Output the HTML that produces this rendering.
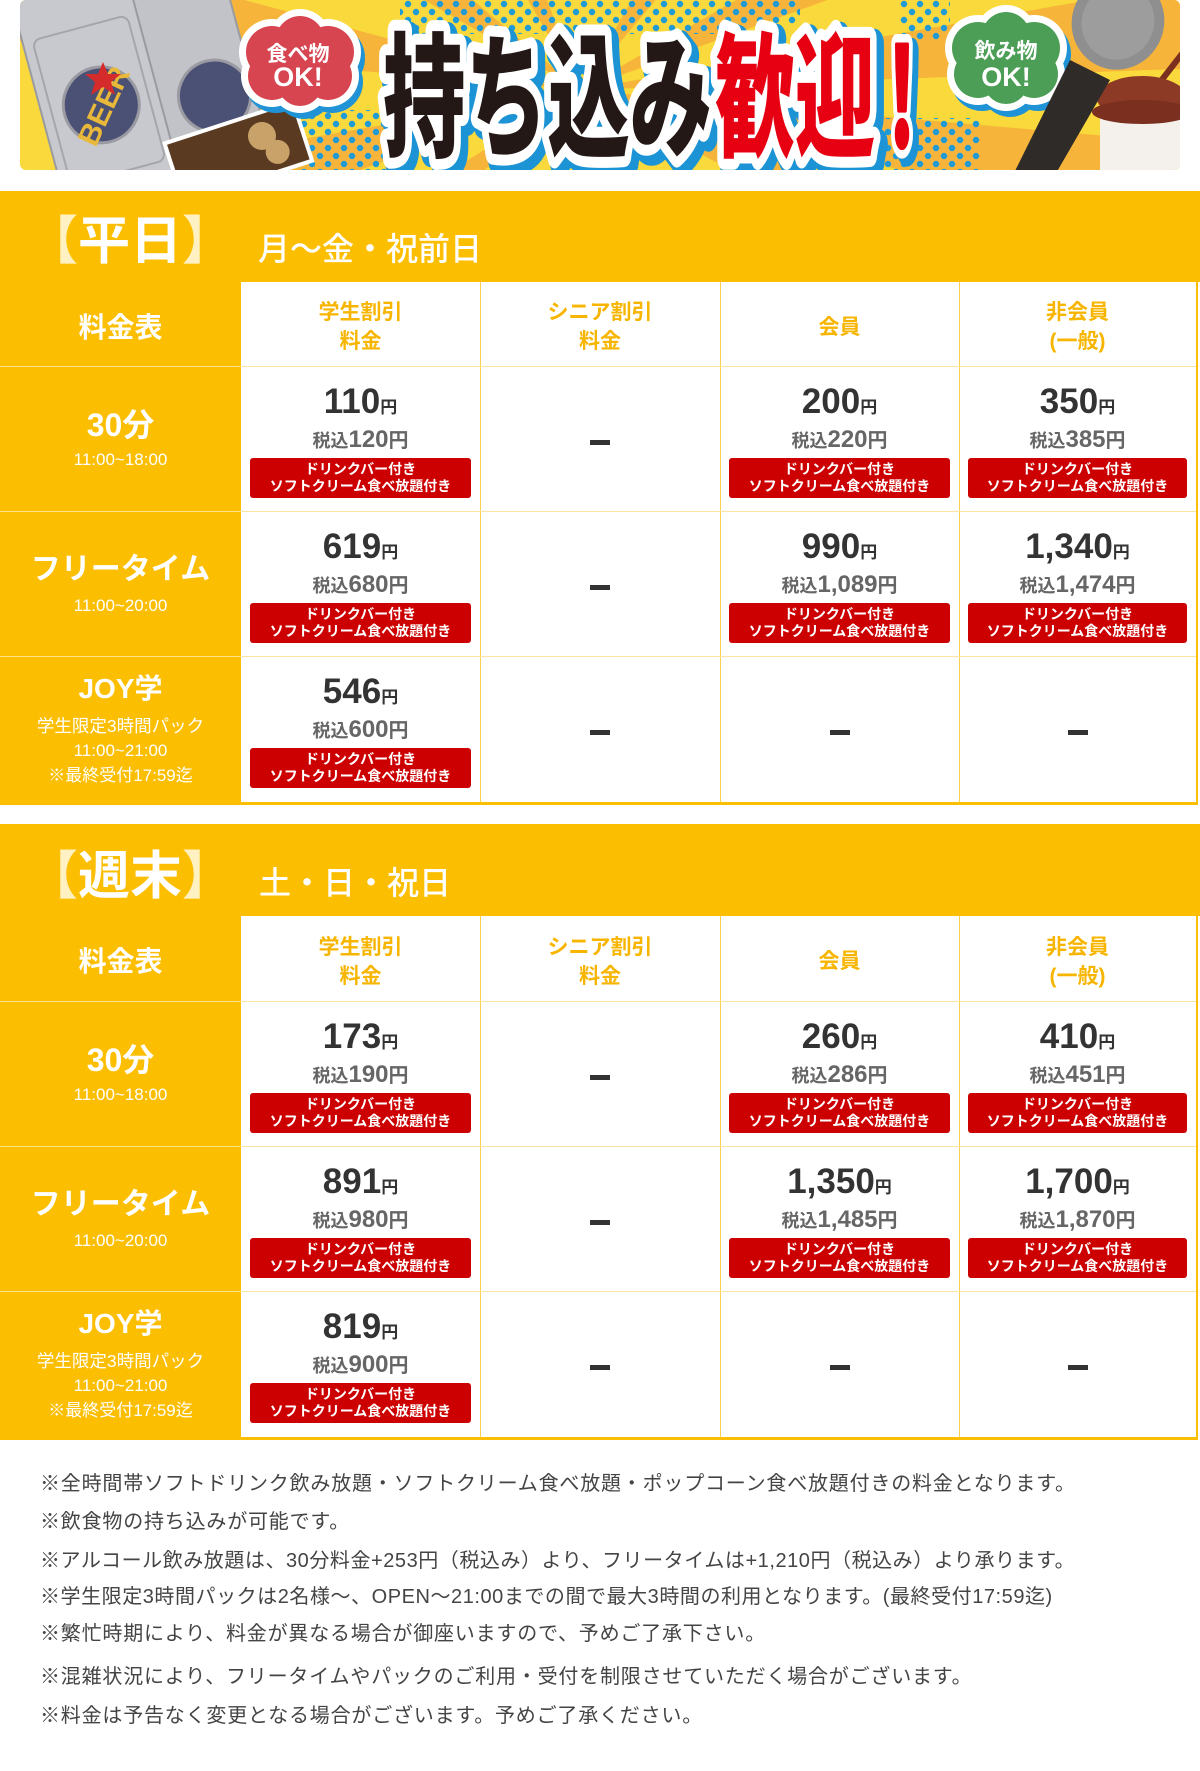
<!DOCTYPE html>
<html><head><meta charset="utf-8">
<style>
*{margin:0;padding:0;box-sizing:border-box}
body{width:1200px;height:1771px;position:relative;overflow:hidden;background:#fff;font-family:"Liberation Sans","Noto Sans CJK JP",sans-serif}
.a{position:absolute}
.y{background:#fcbe00}
.c{position:absolute;height:145px}
.n{position:absolute;left:0;right:0;top:18px;text-align:center;font-size:35px;line-height:35px;font-weight:bold;color:#333;white-space:nowrap}
.n span{font-size:17px}
.t{position:absolute;left:0;right:0;top:62px;text-align:center;font-size:24px;line-height:24px;font-weight:bold;color:#666;white-space:nowrap}
.t .k{font-size:18px}.t .e{font-size:20px}
.b{position:absolute;left:9px;right:9px;top:92px;height:40px;background:#cc0000;border-radius:3px;color:#fff;font-size:14px;line-height:17px;font-weight:bold;text-align:center;padding-top:3px;white-space:nowrap}
.d{position:absolute;left:50%;margin-left:-10px;top:74px;width:20px;height:5px;background:#333;font-size:0;color:transparent;overflow:hidden}
.h{position:absolute;display:flex;align-items:center;justify-content:center;text-align:center;color:#f7b500;font-weight:bold;font-size:21px;line-height:29px;height:84px;padding-top:6px}
.lt{position:absolute;left:0;width:241px;text-align:center;color:#fff;font-weight:bold;white-space:nowrap}
.ls{position:absolute;left:0;width:241px;text-align:center;color:#fff;font-size:17px;line-height:17px;white-space:nowrap}
.vl{position:absolute;width:1px;background:#fcd04d}
.hl{position:absolute;height:1px;left:241px;width:957px;background:#fde3a0}
.wl{position:absolute;height:1px;left:0;width:241px;background:rgba(255,255,255,.55)}
.note{position:absolute;left:40px;font-size:20px;line-height:20px;color:#444;letter-spacing:0.8px;white-space:nowrap}
</style></head><body>

<!-- Banner -->
<svg class="a" style="left:20px;top:0" width="1160" height="170" viewBox="0 0 1160 170">
<defs>
<clipPath id="bc"><rect width="1160" height="170" rx="6"/></clipPath>
<pattern id="dots" width="16" height="16" patternUnits="userSpaceOnUse"><circle cx="4" cy="4" r="3.2" fill="#1f9ad8"/><circle cx="12" cy="12" r="3.2" fill="#1f9ad8"/></pattern>
</defs>
<g clip-path="url(#bc)">
<rect width="1160" height="170" fill="#f9d93b"/>
<g fill="#f6b53a">
<polygon points="560,90 1556,177 1530,332"/>
<polygon points="560,90 -380,432 -425,264"/>
<polygon points="560,90 -436,3 -406,-169"/>
<polygon points="560,90 -306,-410 -206,-553"/>
<polygon points="560,90 -206,733 -288,620"/>
<polygon points="560,90 1426,-410 1500,-252"/>
<polygon points="560,90 1545,-84 1559,55"/>
<polygon points="560,90 1500,432 1443,559"/>
<polygon points="560,90 1060,-776 1203,-676"/>
<polygon points="560,90 60,-776 218,-850"/>
</g>
<rect x="380" y="0" width="320" height="34" fill="url(#dots)"/>
<rect x="270" y="110" width="100" height="60" fill="url(#dots)"/>
<rect x="700" y="0" width="80" height="24" fill="url(#dots)"/>
<rect x="850" y="118" width="110" height="52" fill="url(#dots)"/>
<rect x="880" y="0" width="50" height="40" fill="url(#dots)"/>
<!-- beer cans -->
<g transform="rotate(-15 180 100)">
<rect x="135" y="-20" width="100" height="230" rx="14" fill="#c2c3c8" stroke="#9a9ba0" stroke-width="2"/>
<circle cx="195" cy="100" r="36" fill="#4b5175" stroke="#9a9aa2" stroke-width="3"/>
</g>
<g transform="rotate(-15 80 100)">
<rect x="20" y="-20" width="118" height="240" rx="16" fill="#c8c9ce" stroke="#9a9ba0" stroke-width="2"/>
<rect x="30" y="25" width="98" height="150" rx="8" fill="none" stroke="#a5a6ab" stroke-width="2"/>
<circle cx="80" cy="105" r="38" fill="#4b5175" stroke="#9a9aa2" stroke-width="3"/>
<text x="80" y="118" text-anchor="middle" font-family="Liberation Sans, sans-serif" font-weight="bold" font-size="30" fill="#e8b83a" transform="rotate(-50 80 105)">BEER</text>
</g>
<polygon points="83,62 88,74 101,74 91,82 95,95 83,87 71,95 75,82 65,74 78,74" fill="#d62b2b"/>
<!-- choco box -->
<g transform="rotate(-18 215 150)">
<rect x="150" y="122" width="135" height="62" fill="#5b3a22" stroke="#fff" stroke-width="4"/>
<circle cx="245" cy="145" r="14" fill="#c9a26a"/><circle cx="255" cy="165" r="12" fill="#c9a26a"/>
</g>
<!-- red cloud -->
<g fill="#1f93d6" transform="translate(4,6)">
<circle cx="280" cy="40" r="31"/><circle cx="252" cy="52" r="33"/><circle cx="308" cy="52" r="33"/><circle cx="252" cy="76" r="31"/><circle cx="308" cy="76" r="31"/><circle cx="280" cy="84" r="29"/><circle cx="280" cy="62" r="41"/>
</g>
<g fill="#fff">
<circle cx="280" cy="40" r="31"/><circle cx="252" cy="52" r="33"/><circle cx="308" cy="52" r="33"/><circle cx="252" cy="76" r="31"/><circle cx="308" cy="76" r="31"/><circle cx="280" cy="84" r="29"/><circle cx="280" cy="62" r="41"/>
</g>
<g fill="#d64550">
<circle cx="280" cy="40" r="24"/><circle cx="252" cy="52" r="26"/><circle cx="308" cy="52" r="26"/><circle cx="252" cy="76" r="24"/><circle cx="308" cy="76" r="24"/><circle cx="280" cy="84" r="22"/><circle cx="280" cy="62" r="34"/>
</g>
<text x="278" y="61" text-anchor="middle" font-family="Liberation Sans, Noto Sans CJK JP, sans-serif" font-weight="bold" font-size="21" fill="#fff">食べ物</text>
<text x="278" y="86" text-anchor="middle" font-family="Liberation Sans, Noto Sans CJK JP, sans-serif" font-weight="bold" font-size="27" fill="#fff">OK!</text>
<!-- main text -->
<g font-family="Liberation Sans, Noto Sans CJK JP, sans-serif" font-weight="900" font-size="135" stroke-linejoin="round">
<g transform="translate(5,6)" fill="#1c93d4" stroke="#1c93d4" stroke-width="30">
<text x="363" y="146" textLength="329" lengthAdjust="spacingAndGlyphs">持ち込み</text>
<text x="695" y="146" textLength="160" lengthAdjust="spacingAndGlyphs">歓迎</text>
<text x="852" y="146" textLength="60" lengthAdjust="spacingAndGlyphs" stroke-width="26">！</text>
</g>
<g fill="#fff" stroke="#fff" stroke-width="22">
<text x="363" y="146" textLength="329" lengthAdjust="spacingAndGlyphs">持ち込み</text>
<text x="695" y="146" textLength="160" lengthAdjust="spacingAndGlyphs">歓迎</text>
<text x="852" y="146" textLength="60" lengthAdjust="spacingAndGlyphs" stroke-width="22">！</text>
</g>
<text x="363" y="146" textLength="329" lengthAdjust="spacingAndGlyphs" fill="#231815">持ち込み</text>
<text x="695" y="146" textLength="160" lengthAdjust="spacingAndGlyphs" fill="#e60012">歓迎</text>
<text x="852" y="146" textLength="60" lengthAdjust="spacingAndGlyphs" fill="#e60012" stroke="#e60012" stroke-width="5">！</text>
</g>
<!-- green cloud -->
<g fill="#1f93d6" transform="translate(4,6)">
<circle cx="986" cy="36" r="31"/><circle cx="958" cy="48" r="33"/><circle cx="1014" cy="48" r="33"/><circle cx="958" cy="74" r="31"/><circle cx="1014" cy="74" r="31"/><circle cx="986" cy="82" r="29"/><circle cx="986" cy="60" r="41"/>
</g>
<g fill="#fff">
<circle cx="986" cy="36" r="31"/><circle cx="958" cy="48" r="33"/><circle cx="1014" cy="48" r="33"/><circle cx="958" cy="74" r="31"/><circle cx="1014" cy="74" r="31"/><circle cx="986" cy="82" r="29"/><circle cx="986" cy="60" r="41"/>
</g>
<g fill="#4c9e57">
<circle cx="986" cy="36" r="24"/><circle cx="958" cy="48" r="26"/><circle cx="1014" cy="48" r="26"/><circle cx="958" cy="74" r="24"/><circle cx="1014" cy="74" r="24"/><circle cx="986" cy="82" r="22"/><circle cx="986" cy="60" r="34"/>
</g>
<text x="986" y="58" text-anchor="middle" font-family="Liberation Sans, Noto Sans CJK JP, sans-serif" font-weight="bold" font-size="21" fill="#fff">飲み物</text>
<text x="986" y="86" text-anchor="middle" font-family="Liberation Sans, Noto Sans CJK JP, sans-serif" font-weight="bold" font-size="27" fill="#fff">OK!</text>
<!-- cup -->
<line x1="1130" y1="95" x2="1165" y2="50" stroke="#7a2f1f" stroke-width="6"/>
<rect x="1080" y="118" width="85" height="55" fill="#f4f1ec"/>
<ellipse cx="1122" cy="98" rx="45" ry="22" fill="#8c3a25"/>
<ellipse cx="1122" cy="112" rx="50" ry="12" fill="#7a2f1f"/>
<!-- mic -->
<polygon points="1050,60 1090,80 1035,175 993,175" fill="#2e2b28"/>
<ellipse cx="1098" cy="22" rx="46" ry="48" fill="#8f8f8f" transform="rotate(25 1098 22)"/>
<ellipse cx="1098" cy="22" rx="36" ry="38" fill="#9d9d9d" transform="rotate(25 1098 22)"/>
</g>
</svg>

<!-- ===== Section 1 ===== -->
<div class="a y" style="left:0;top:191px;width:1200px;height:91px"></div>
<div class="a" style="left:0;top:216px;width:260px;text-align:center;font-size:52px;line-height:52px;font-weight:bold;color:#fff;white-space:nowrap"><span style="color:#fff1c2">【</span>平日<span style="color:#fff1c2">】</span></div>
<div class="a" style="left:258px;top:233px;font-size:32px;line-height:32px;font-weight:500;color:#fff;white-space:nowrap">月～金・祝前日</div>

<div class="a y" style="left:0;top:282px;width:241px;height:520px"></div>
<div class="a" style="left:241px;top:282px;width:957px;height:520px;background:#fff"></div>
<div class="vl" style="left:480px;top:282px;height:520px"></div>
<div class="vl" style="left:720px;top:282px;height:520px"></div>
<div class="vl" style="left:959px;top:282px;height:520px"></div>
<div class="hl" style="top:366px"></div>
<div class="hl" style="top:511px"></div>
<div class="hl" style="top:656px"></div>
<div class="wl" style="top:366px"></div>
<div class="wl" style="top:511px"></div>
<div class="wl" style="top:656px"></div>
<div class="a y" style="left:1196px;top:282px;width:2px;height:523px"></div>
<div class="a y" style="left:0;top:802px;width:1198px;height:3px"></div>

<div class="a" style="left:0;top:282px;width:241px;height:84px;display:flex;align-items:center;justify-content:center;color:#fff;font-weight:bold;font-size:28px;padding-top:3px">料金表</div>
<div class="h" style="left:241px;top:282px;width:239px">学生割引<br>料金</div>
<div class="h" style="left:480px;top:282px;width:240px">シニア割引<br>料金</div>
<div class="h" style="left:720px;top:282px;width:239px">会員</div>
<div class="h" style="left:959px;top:282px;width:237px">非会員<br>(一般)</div>

<!-- row 1 -->
<div class="lt" style="top:409px;font-size:32px;line-height:32px">30分</div>
<div class="ls" style="top:451px">11:00~18:00</div>
<div class="c" style="left:241px;top:366px;width:239px"><div class="n">110<span>円</span></div><div class="t"><span class="k">税込</span>120<span class="e">円</span></div><div class="b">ドリンクバー付き<br>ソフトクリーム食べ放題付き</div></div>
<div class="c" style="left:480px;top:366px;width:240px"><div class="d">－</div></div>
<div class="c" style="left:720px;top:366px;width:239px"><div class="n">200<span>円</span></div><div class="t"><span class="k">税込</span>220<span class="e">円</span></div><div class="b">ドリンクバー付き<br>ソフトクリーム食べ放題付き</div></div>
<div class="c" style="left:959px;top:366px;width:237px"><div class="n">350<span>円</span></div><div class="t"><span class="k">税込</span>385<span class="e">円</span></div><div class="b">ドリンクバー付き<br>ソフトクリーム食べ放題付き</div></div>

<!-- row 2 -->
<div class="lt" style="top:555px;font-size:30px;line-height:30px">フリータイム</div>
<div class="ls" style="top:597px">11:00~20:00</div>
<div class="c" style="left:241px;top:511px;width:239px"><div class="n">619<span>円</span></div><div class="t"><span class="k">税込</span>680<span class="e">円</span></div><div class="b">ドリンクバー付き<br>ソフトクリーム食べ放題付き</div></div>
<div class="c" style="left:480px;top:511px;width:240px"><div class="d">－</div></div>
<div class="c" style="left:720px;top:511px;width:239px"><div class="n">990<span>円</span></div><div class="t"><span class="k">税込</span>1,089<span class="e">円</span></div><div class="b">ドリンクバー付き<br>ソフトクリーム食べ放題付き</div></div>
<div class="c" style="left:959px;top:511px;width:237px"><div class="n">1,340<span>円</span></div><div class="t"><span class="k">税込</span>1,474<span class="e">円</span></div><div class="b">ドリンクバー付き<br>ソフトクリーム食べ放題付き</div></div>

<!-- row 3 -->
<div class="lt" style="top:675px;font-size:28px;line-height:28px">JOY学</div>
<div class="ls" style="top:717px;font-size:17.5px;line-height:18px">学生限定3時間パック</div>
<div class="ls" style="top:742px">11:00~21:00</div>
<div class="ls" style="top:767px">※最終受付17:59迄</div>
<div class="c" style="left:241px;top:656px;width:239px"><div class="n">546<span>円</span></div><div class="t"><span class="k">税込</span>600<span class="e">円</span></div><div class="b">ドリンクバー付き<br>ソフトクリーム食べ放題付き</div></div>
<div class="c" style="left:480px;top:656px;width:240px"><div class="d">－</div></div>
<div class="c" style="left:720px;top:656px;width:239px"><div class="d">－</div></div>
<div class="c" style="left:959px;top:656px;width:237px"><div class="d">－</div></div>

<!-- ===== Section 2 ===== -->
<div class="a y" style="left:0;top:824px;width:1200px;height:92px"></div>
<div class="a" style="left:0;top:851px;width:260px;text-align:center;font-size:52px;line-height:52px;font-weight:bold;color:#fff;white-space:nowrap"><span style="color:#fff1c2">【</span>週末<span style="color:#fff1c2">】</span></div>
<div class="a" style="left:259px;top:867px;font-size:32px;line-height:32px;font-weight:500;color:#fff;white-space:nowrap">土・日・祝日</div>

<div class="a y" style="left:0;top:916px;width:241px;height:521px"></div>
<div class="a" style="left:241px;top:916px;width:957px;height:521px;background:#fff"></div>
<div class="vl" style="left:480px;top:916px;height:521px"></div>
<div class="vl" style="left:720px;top:916px;height:521px"></div>
<div class="vl" style="left:959px;top:916px;height:521px"></div>
<div class="hl" style="top:1001px"></div>
<div class="hl" style="top:1146px"></div>
<div class="hl" style="top:1291px"></div>
<div class="wl" style="top:1001px"></div>
<div class="wl" style="top:1146px"></div>
<div class="wl" style="top:1291px"></div>
<div class="a y" style="left:1196px;top:916px;width:2px;height:524px"></div>
<div class="a y" style="left:0;top:1437px;width:1198px;height:3px"></div>

<div class="a" style="left:0;top:916px;width:241px;height:85px;display:flex;align-items:center;justify-content:center;color:#fff;font-weight:bold;font-size:28px;padding-top:3px">料金表</div>
<div class="h" style="left:241px;top:916px;width:239px;height:85px">学生割引<br>料金</div>
<div class="h" style="left:480px;top:916px;width:240px;height:85px">シニア割引<br>料金</div>
<div class="h" style="left:720px;top:916px;width:239px;height:85px">会員</div>
<div class="h" style="left:959px;top:916px;width:237px;height:85px">非会員<br>(一般)</div>

<!-- row 1 -->
<div class="lt" style="top:1044px;font-size:32px;line-height:32px">30分</div>
<div class="ls" style="top:1086px">11:00~18:00</div>
<div class="c" style="left:241px;top:1001px;width:239px"><div class="n">173<span>円</span></div><div class="t"><span class="k">税込</span>190<span class="e">円</span></div><div class="b">ドリンクバー付き<br>ソフトクリーム食べ放題付き</div></div>
<div class="c" style="left:480px;top:1001px;width:240px"><div class="d">－</div></div>
<div class="c" style="left:720px;top:1001px;width:239px"><div class="n">260<span>円</span></div><div class="t"><span class="k">税込</span>286<span class="e">円</span></div><div class="b">ドリンクバー付き<br>ソフトクリーム食べ放題付き</div></div>
<div class="c" style="left:959px;top:1001px;width:237px"><div class="n">410<span>円</span></div><div class="t"><span class="k">税込</span>451<span class="e">円</span></div><div class="b">ドリンクバー付き<br>ソフトクリーム食べ放題付き</div></div>

<!-- row 2 -->
<div class="lt" style="top:1190px;font-size:30px;line-height:30px">フリータイム</div>
<div class="ls" style="top:1232px">11:00~20:00</div>
<div class="c" style="left:241px;top:1146px;width:239px"><div class="n">891<span>円</span></div><div class="t"><span class="k">税込</span>980<span class="e">円</span></div><div class="b">ドリンクバー付き<br>ソフトクリーム食べ放題付き</div></div>
<div class="c" style="left:480px;top:1146px;width:240px"><div class="d">－</div></div>
<div class="c" style="left:720px;top:1146px;width:239px"><div class="n">1,350<span>円</span></div><div class="t"><span class="k">税込</span>1,485<span class="e">円</span></div><div class="b">ドリンクバー付き<br>ソフトクリーム食べ放題付き</div></div>
<div class="c" style="left:959px;top:1146px;width:237px"><div class="n">1,700<span>円</span></div><div class="t"><span class="k">税込</span>1,870<span class="e">円</span></div><div class="b">ドリンクバー付き<br>ソフトクリーム食べ放題付き</div></div>

<!-- row 3 -->
<div class="lt" style="top:1310px;font-size:28px;line-height:28px">JOY学</div>
<div class="ls" style="top:1352px;font-size:17.5px;line-height:18px">学生限定3時間パック</div>
<div class="ls" style="top:1377px">11:00~21:00</div>
<div class="ls" style="top:1402px">※最終受付17:59迄</div>
<div class="c" style="left:241px;top:1291px;width:239px"><div class="n">819<span>円</span></div><div class="t"><span class="k">税込</span>900<span class="e">円</span></div><div class="b">ドリンクバー付き<br>ソフトクリーム食べ放題付き</div></div>
<div class="c" style="left:480px;top:1291px;width:240px"><div class="d">－</div></div>
<div class="c" style="left:720px;top:1291px;width:239px"><div class="d">－</div></div>
<div class="c" style="left:959px;top:1291px;width:237px"><div class="d">－</div></div>

<!-- Notes -->
<div class="note" style="top:1474px">※全時間帯ソフトドリンク飲み放題・ソフトクリーム食べ放題・ポップコーン食べ放題付きの料金となります。</div>
<div class="note" style="top:1512px">※飲食物の持ち込みが可能です。</div>
<div class="note" style="top:1551px;letter-spacing:0.55px">※アルコール飲み放題は、30分料金+253円（税込み）より、フリータイムは+1,210円（税込み）より承ります。</div>
<div class="note" style="top:1587px;letter-spacing:0.55px">※学生限定3時間パックは2名様～、OPEN～21:00までの間で最大3時間の利用となります。(最終受付17:59迄)</div>
<div class="note" style="top:1624px">※繁忙時期により、料金が異なる場合が御座いますので、予めご了承下さい。</div>
<div class="note" style="top:1667px">※混雑状況により、フリータイムやパックのご利用・受付を制限させていただく場合がございます。</div>
<div class="note" style="top:1706px">※料金は予告なく変更となる場合がございます。予めご了承ください。</div>

</body></html>
